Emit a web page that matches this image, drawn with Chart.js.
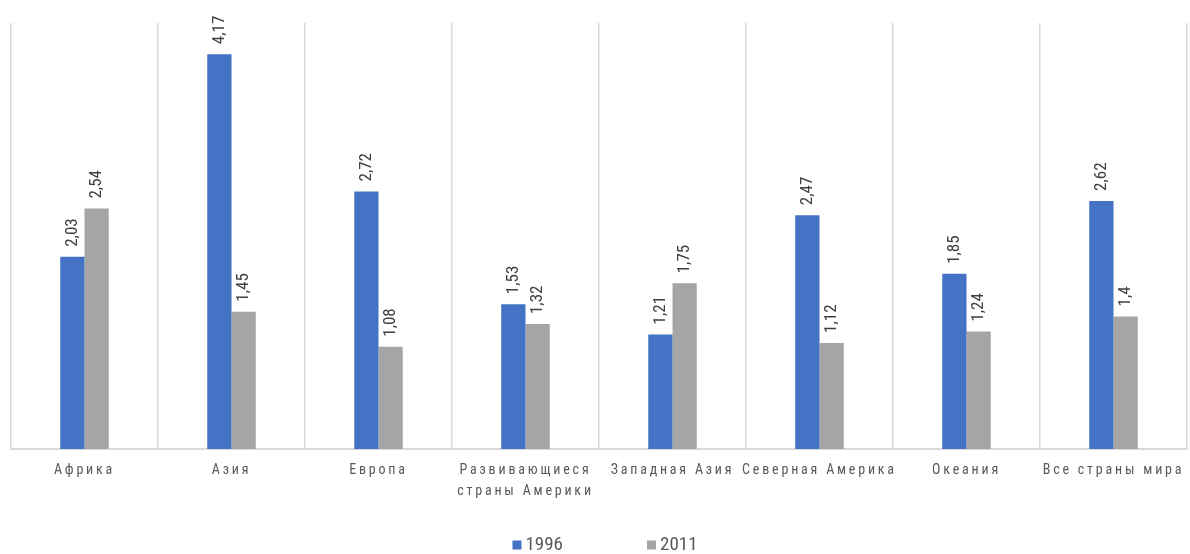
<!DOCTYPE html>
<html>
<head>
<meta charset="utf-8">
<script src="https://cdn.jsdelivr.net/npm/chart.js@4.4.1/dist/chart.umd.min.js"></script>
<style>
  html, body { margin: 0; padding: 0; background: #ffffff; }
  #wrap { width: 1190px; height: 554px; position: relative; }
</style>
</head>
<body>
<div id="wrap"><canvas id="chart" width="1190" height="554"></canvas></div>
<script>
const categories = [
  'Африка',
  'Азия',
  'Европа',
  ['Развивающиеся', 'страны Америки'],
  'Западная Азия',
  'Северная Америка',
  'Океания',
  'Все страны мира'
];
const values1996 = [2.03, 4.17, 2.72, 1.53, 1.21, 2.47, 1.85, 2.62];
const values2011 = [2.54, 1.45, 1.08, 1.32, 1.75, 1.12, 1.24, 1.4];
const seriesNames = ['1996', '2011'];
const seriesColors = ['#4472C4', '#A5A5A5'];

const FONT = '"Roboto Condensed", "DejaVu Sans Condensed", sans-serif';

function fmt(v) {
  return String(v).replace('.', ',');
}

// Letter-spaced category labels on the x axis
const spacedTicks = {
  id: 'spacedTicks',
  beforeDraw(chart) {
    const sc = chart.scales.x;
    if (sc && !sc._spaced) {
      const base = Object.getPrototypeOf(sc).drawLabels;
      sc.drawLabels = function (area) {
        const ctx = this.ctx;
        ctx.save();
        ctx.letterSpacing = '2.8px';
        base.call(this, area);
        ctx.restore();
      };
      sc._spaced = true;
    }
  }
};

// Rotated value labels above each bar
const valueLabels = {
  id: 'valueLabels',
  afterDatasetsDraw(chart) {
    const ctx = chart.ctx;
    chart.data.datasets.forEach((ds, di) => {
      const meta = chart.getDatasetMeta(di);
      meta.data.forEach((bar, i) => {
        ctx.save();
        ctx.translate(bar.x, bar.y - 10);
        ctx.rotate(-Math.PI / 2);
        ctx.font = '17px ' + FONT;
        ctx.fillStyle = '#404040';
        ctx.textAlign = 'left';
        ctx.textBaseline = 'middle';
        ctx.fillText(fmt(ds.data[i]), 0, 0);
        ctx.restore();
      });
    });
  }
};

// Legend row at the bottom
const bottomLegend = {
  id: 'bottomLegend',
  afterDraw(chart) {
    const ctx = chart.ctx;
    ctx.save();
    ctx.font = '19px ' + FONT;
    ctx.textBaseline = 'middle';
    ctx.textAlign = 'left';
    const box = 9, gapText = 4, gapItem = 84;
    const items = chart.data.datasets.map(ds => ({
      text: ds.label, color: ds.backgroundColor,
      w: box + gapText + ctx.measureText(ds.label).width
    }));
    const total = items.reduce((s, it) => s + it.w, 0) + gapItem * (items.length - 1);
    let x = chart.width / 2 + 10 - total / 2;
    const y = 545;
    items.forEach(it => {
      ctx.fillStyle = it.color;
      ctx.fillRect(x, y - 4.5, box, box);
      ctx.fillStyle = '#595959';
      ctx.fillText(it.text, x + box + gapText, y);
      x += it.w + gapItem;
    });
    ctx.restore();
  }
};

new Chart(document.getElementById('chart'), {
  type: 'bar',
  data: {
    labels: categories,
    datasets: [
      { label: seriesNames[0], data: values1996, backgroundColor: seriesColors[0] },
      { label: seriesNames[1], data: values2011, backgroundColor: seriesColors[1] }
    ]
  },
  options: {
    responsive: false,
    animation: false,
    categoryPercentage: 0.33,
    barPercentage: 1.0,
    layout: { padding: { top: 23, left: 11, right: 3, bottom: 41 } },
    plugins: {
      legend: { display: false },
      tooltip: { enabled: false }
    },
    scales: {
      y: {
        display: false,
        min: 0,
        max: 4.5
      },
      x: {
        grid: {
          offset: true,
          color: '#D9D9D9',
          lineWidth: 1.5,
          drawTicks: false
        },
        border: { color: '#D9D9D9', width: 2 },
        ticks: {
          color: '#595959',
          font: { family: FONT, size: 14, lineHeight: 1.5 },
          padding: 11,
          autoSkip: false,
          maxRotation: 0,
          minRotation: 0
        }
      }
    }
  },
  plugins: [spacedTicks, valueLabels, bottomLegend]
});
</script>
</body>
</html>
